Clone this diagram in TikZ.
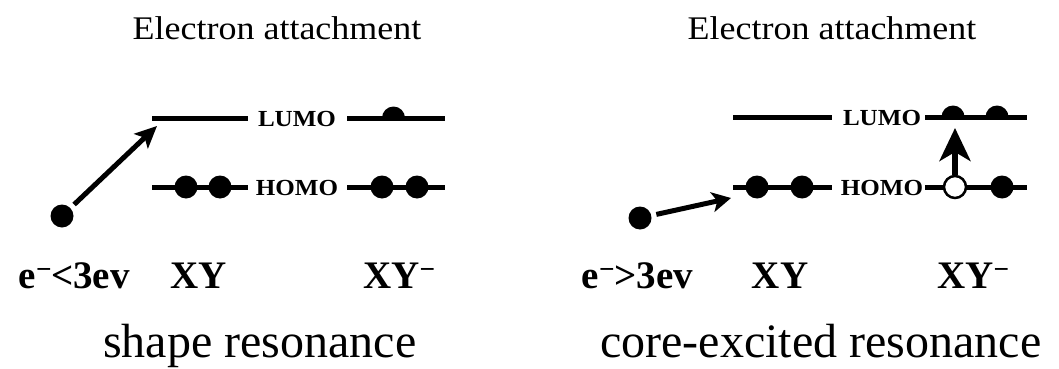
\documentclass[tikz,border=0pt]{standalone}
\usepackage{fontspec}
\setmainfont{Liberation Serif}
\usepackage{graphicx}
\usetikzlibrary{arrows.meta,positioning}
\newcommand\widen[1]{\scalebox{1.09}[1]{#1}}

\begin{document}
\begin{tikzpicture}[x=1pt,y=1pt,
    level/.style={line width=5pt},
    elec/.style={circle,fill=black,inner sep=0pt,minimum size=23pt},
    hole/.style={circle,draw=black,line width=2.5pt,fill=white,inner sep=0pt,minimum size=22pt},
    orb/.style={font=\fontsize{23}{23}\selectfont\bfseries,inner sep=0pt,anchor=base},
    title/.style={font=\fontsize{33}{33}\selectfont,inner sep=0pt,anchor=base},
    mol/.style={font=\fontsize{39}{39}\selectfont\bfseries,inner sep=0pt},
    kind/.style={font=\fontsize{48}{48}\selectfont,inner sep=0pt,anchor=base west},
    attach/.style={line width=5pt,shorten <=5pt,-{Stealth[length=22pt,width=20pt,inset=5pt]}},
    excite/.style={line width=5.5pt,-{Stealth[length=33pt,width=31pt,inset=9pt]}}]
  \useasboundingbox (0,0) rectangle (1059,-369);

  % shape resonance
  \node[title] (titleA) at (277,-40) {\widen{Electron attachment}};
  \coordinate (lumoAw) at (152,-118); \coordinate (lumoAe) at (248,-118);
  \coordinate (homoAw) at (152,-187); \coordinate (homoAe) at (248,-187);
  \coordinate (lumoAnw) at (347,-118); \coordinate (lumoAne) at (445,-118);
  \coordinate (homoAnw) at (347,-187); \coordinate (homoAne) at (445,-187);
  \draw[level] (lumoAw) -- (lumoAe);
  \draw[level] (homoAw) -- (homoAe);
  \draw[level] (lumoAnw) -- (lumoAne);
  \draw[level] (homoAnw) -- (homoAne);
  \node[orb] (lumoA) at (297,-126) {\widen{LUMO}};
  \node[orb] (homoA) at (297,-195) {\widen{HOMO}};
  \node[elec] (hA1) at (186,-187) {};
  \node[elec] (hA2) at (220,-187) {};
  \node[elec] (hAn1) at (382,-187) {};
  \node[elec] (hAn2) at (417,-187) {};
  \fill (382,-118) arc (180:0:11.5) -- cycle;
  \node[elec] (freeA) at (62,-216) {};
  \coordinate (tipA) at (157,-126);
  \draw[attach] (freeA) -- (tipA);
  \node[mol,anchor=base east] (inA) at (130,-288) {e\textsuperscript{−}\kern-1pt<3ev};
  \node[mol,anchor=base] (xyA) at (199,-288) {XY};
  \node[mol,anchor=base west] (xyAn) at (363,-288) {XY\textsuperscript{−}};
  \node[kind] (kindA) at (103,-357) {shape resonance};

  % core-excited resonance
  \node[title] (titleB) at (832,-40) {\widen{Electron attachment}};
  \coordinate (lumoBw) at (733,-117); \coordinate (lumoBe) at (832,-117);
  \coordinate (homoBw) at (733,-187); \coordinate (homoBe) at (832,-187);
  \coordinate (lumoBnw) at (925,-117); \coordinate (lumoBne) at (1027,-117);
  \coordinate (homoBnw) at (925,-187); \coordinate (homoBne) at (1027,-187);
  \draw[level] (lumoBw) -- (lumoBe);
  \draw[level] (homoBw) -- (homoBe);
  \draw[level] (lumoBnw) -- (lumoBne);
  \draw[level] (homoBnw) -- (homoBne);
  \node[orb] (lumoB) at (882,-125) {\widen{LUMO}};
  \node[orb] (homoB) at (882,-195) {\widen{HOMO}};
  \node[elec] (hB1) at (757,-187) {};
  \node[elec] (hB2) at (802,-187) {};
  \node[hole] (hBn1) at (955,-187) {};
  \node[elec] (hBn2) at (1002,-187) {};
  \fill (941.5,-117) arc (180:0:11.5) -- cycle;
  \fill (985.5,-117) arc (180:0:11.5) -- cycle;
  \node[elec] (freeB) at (640,-218) {};
  \coordinate (tipB) at (731,-198);
  \coordinate (tipBn) at (955,-128);
  \draw[attach,-{Stealth[length=19pt,width=20pt,inset=5pt]}] (freeB) -- (tipB);
  \draw[excite] (hBn1) -- (tipBn);
  \node[mol,anchor=base east] (inB) at (693,-288) {e\textsuperscript{−}\kern-1pt>3ev};
  \node[mol,anchor=base] (xyB) at (780,-288) {XY};
  \node[mol,anchor=base west] (xyBn) at (937,-288) {XY\textsuperscript{−}};
  \node[kind] (kindB) at (600,-357) {core-excited resonance};
\end{tikzpicture}
\end{document}
